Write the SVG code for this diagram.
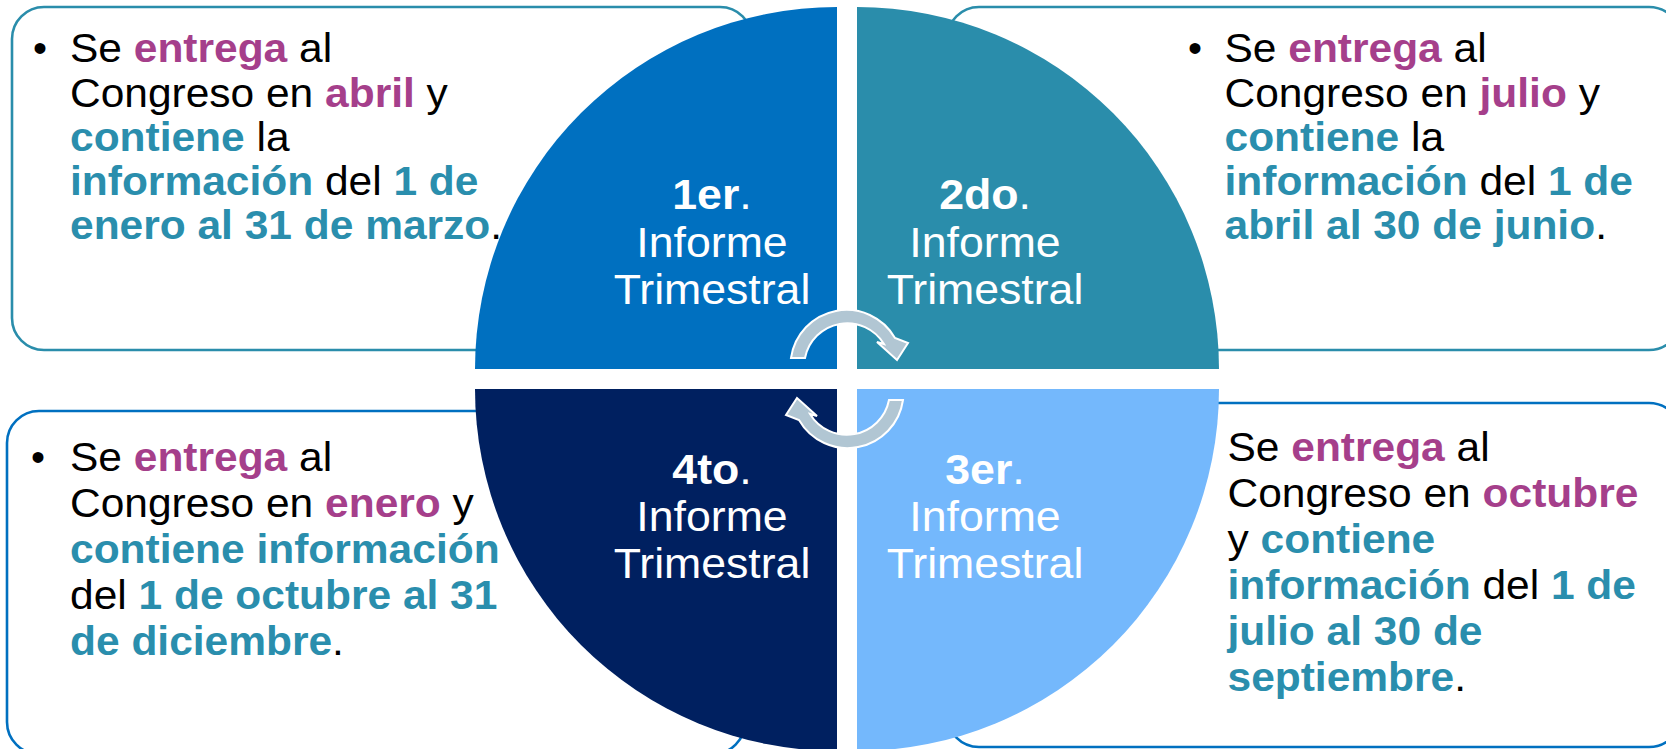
<svg xmlns="http://www.w3.org/2000/svg" width="1666" height="749" viewBox="0 0 1666 749">
<defs>
<style>
.box{fill:#fff;stroke-width:2.6}
.bt{stroke:#2A8DAB}
.bb{stroke:#0070C0}
.t{font-family:"Liberation Sans",Arial,sans-serif;font-size:40px;fill:#000}
.m{fill:#A53F8B;font-weight:bold}
.c{fill:#2A8EAD;font-weight:bold}
.q{font-family:"Liberation Sans",Arial,sans-serif;font-size:42px;fill:#fff;text-anchor:middle}
.qb{font-weight:bold}
.arr{fill:#B1C6D3;stroke:#fff;stroke-width:2;stroke-linejoin:miter}
</style>
</defs>
<rect width="1666" height="749" fill="#fff"/>

<g id="box1">
<rect class="box bt" x="12" y="7" width="740" height="343" rx="32"/>
<text class="t" x="33" y="62.3">•</text>
<g transform="translate(70,0) scale(1.0625,1)">
<text class="t" x="0" y="62.3">Se <tspan class="m">entrega</tspan> al</text>
<text class="t" x="0" y="106.6">Congreso en <tspan class="m">abril</tspan> y</text>
<text class="t" x="0" y="150.8"><tspan class="c">contiene</tspan> la</text>
<text class="t" x="0" y="195"><tspan class="c">información</tspan> del <tspan class="c">1 de</tspan></text>
<text class="t" x="0" y="239.3"><tspan class="c">enero al 31 de marzo</tspan>.</text>
</g>
</g>

<g id="box2">
<rect class="box bt" x="947" y="7" width="734" height="343" rx="32"/>
<text class="t" x="1188" y="62.3">•</text>
<g transform="translate(1224.5,0) scale(1.0625,1)">
<text class="t" x="0" y="62.3">Se <tspan class="m">entrega</tspan> al</text>
<text class="t" x="0" y="106.6">Congreso en <tspan class="m">julio</tspan> y</text>
<text class="t" x="0" y="150.8"><tspan class="c">contiene</tspan> la</text>
<text class="t" x="0" y="195"><tspan class="c">información</tspan> del <tspan class="c">1 de</tspan></text>
<text class="t" x="0" y="239.3"><tspan class="c">abril al 30 de junio</tspan>.</text>
</g>
</g>

<g id="box4">
<rect class="box bb" x="7" y="411" width="738" height="343" rx="32"/>
<text class="t" x="31" y="470.7">•</text>
<g transform="translate(70,0) scale(1.0625,1)">
<text class="t" x="0" y="470.7">Se <tspan class="m">entrega</tspan> al</text>
<text class="t" x="0" y="516.8">Congreso en <tspan class="m">enero</tspan> y</text>
<text class="t" x="0" y="562.9"><tspan class="c">contiene información</tspan></text>
<text class="t" x="0" y="609">del <tspan class="c">1 de octubre al 31</tspan></text>
<text class="t" x="0" y="655.1"><tspan class="c">de diciembre</tspan>.</text>
</g>
</g>

<g id="box3">
<rect class="box bb" x="947" y="403" width="734" height="344" rx="32"/>
<g transform="translate(1227.5,0) scale(1.0625,1)">
<text class="t" x="0" y="460.7">Se <tspan class="m">entrega</tspan> al</text>
<text class="t" x="0" y="506.7">Congreso en <tspan class="m">octubre</tspan></text>
<text class="t" x="0" y="552.7">y <tspan class="c">contiene</tspan></text>
<text class="t" x="0" y="598.7"><tspan class="c">información</tspan> del <tspan class="c">1 de</tspan></text>
<text class="t" x="0" y="644.7"><tspan class="c">julio al 30 de</tspan></text>
<text class="t" x="0" y="690.7"><tspan class="c">septiembre</tspan>.</text>
</g>
</g>

<g id="q1">
<path d="M837,369 L837,7 A362,362 0 0 0 475,369 Z" fill="#0070C0"/>
<g transform="translate(712,0) scale(1.0625,1)">
<text class="q" x="0" y="209.3"><tspan class="qb">1er</tspan>.</text>
<text class="q" x="0" y="256.8">Informe</text>
<text class="q" x="0" y="304">Trimestral</text>
</g>
</g>

<g id="q2">
<path d="M857,369 L1219,369 A362,362 0 0 0 857,7 Z" fill="#2A8DAB"/>
<g transform="translate(985,0) scale(1.0625,1)">
<text class="q" x="0" y="209.3"><tspan class="qb">2do</tspan>.</text>
<text class="q" x="0" y="256.8">Informe</text>
<text class="q" x="0" y="304">Trimestral</text>
</g>
</g>

<g id="q3">
<path d="M857,389 L857,751 A362,362 0 0 0 1219,389 Z" fill="#74B8FC"/>
<g transform="translate(985,0) scale(1.0625,1)">
<text class="q" x="0" y="484.3"><tspan class="qb">3er</tspan>.</text>
<text class="q" x="0" y="531.3">Informe</text>
<text class="q" x="0" y="578.3">Trimestral</text>
</g>
</g>

<g id="q4">
<path d="M837,389 L475,389 A362,362 0 0 0 837,751 Z" fill="#002060"/>
<g transform="translate(712,0) scale(1.0625,1)">
<text class="q" x="0" y="484.3"><tspan class="qb">4to</tspan>.</text>
<text class="q" x="0" y="531.3">Informe</text>
<text class="q" x="0" y="578.3">Trimestral</text>
</g>
</g>

<g id="connectors">
<path id="arrowTop" class="arr" d="M791,358 A56,56 0 0 1 895,338 L908,343 L897,360 L877,342 L884,344 A43,43 0 0 0 805,358 Z"/>
<path id="arrowBottom" class="arr" transform="rotate(180 847 379)" d="M791,358 A56,56 0 0 1 895,338 L908,343 L897,360 L877,342 L884,344 A43,43 0 0 0 805,358 Z"/>
</g>
</svg>
